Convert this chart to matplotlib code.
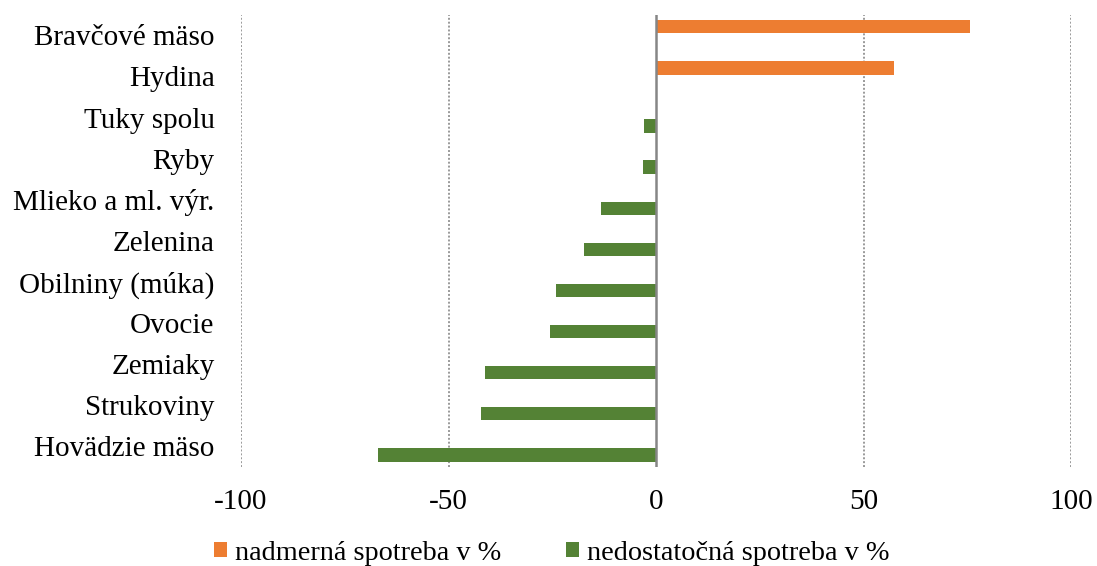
import numpy as np
import matplotlib.pyplot as plt

plt.rcParams['font.family'] = ['Liberation Serif', 'DejaVu Serif']

categories = ['Bravčové mäso', 'Hydina', 'Tuky spolu', 'Ryby', 'Mlieko a ml. výr.',
              'Zelenina', 'Obilniny (múka)', 'Ovocie', 'Zemiaky', 'Strukoviny',
              'Hovädzie mäso']
nadmerna = [75.7, 57.3, 0, 0, 0, 0, 0, 0, 0, 0, 0]
nedostatocna = [0, 0, -3.0, -3.1, -13.3, -17.3, -24.2, -25.5, -41.1, -42.1, -67.1]
xticks = [-100, -50, 0, 50, 100]

fig = plt.figure(figsize=(10.97, 5.66), dpi=100)
ax = fig.add_axes([0.2197, 0.1751, 0.7566, 0.7988])

y = np.arange(len(categories))
d = 0.208
h = 0.325
ax.barh(y - d, nadmerna, height=h, color='#ED7D31', label='nadmerná spotreba v %', zorder=2)
ax.barh(y + d, nedostatocna, height=h, color='#548235', label='nedostatočná spotreba v %', zorder=2)

ax.set_xlim(-100, 100)
ax.set_ylim(len(categories) - 0.5, -0.5)
ax.set_yticks(y, categories, fontsize=21)
ax.set_xticks(xticks, [str(v) for v in xticks], fontsize=21)
ax.tick_params(axis='both', length=0)
ax.tick_params(axis='x', pad=16)
ax.tick_params(axis='y', pad=19)

for v in xticks:
    if v != 0:
        ax.axvline(v, color='#9A9A9A', linestyle=(0, (1.0, 1.0)), linewidth=1.4, zorder=0)
ax.axvline(0, color='#868686', linewidth=1.8, zorder=3)

for s in ax.spines.values():
    s.set_visible(False)

fig.legend(loc='center', bbox_to_anchor=(0.503, 0.0225), ncol=2, frameon=False,
           fontsize=20.3, handlelength=0.46, handleheight=0.46, handletextpad=0.28,
           columnspacing=2.3)

fig.savefig('out.png', dpi=100)
